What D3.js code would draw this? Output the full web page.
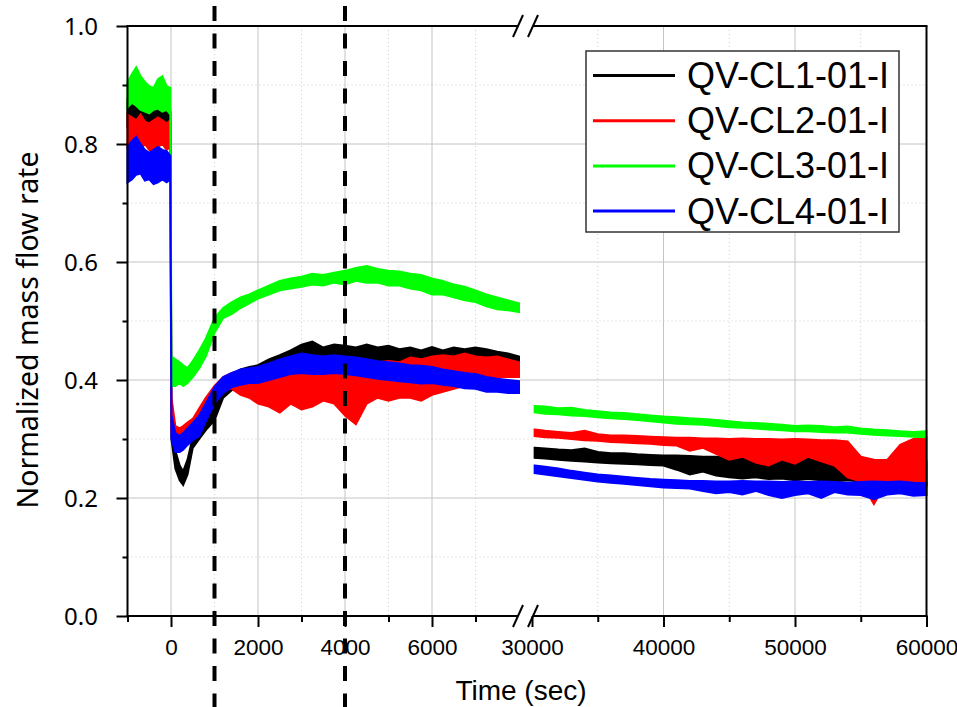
<!DOCTYPE html>
<html>
<head>
<meta charset="utf-8">
<script src="https://cdn.jsdelivr.net/npm/d3@7"></script>
<style>
  body { margin: 0; background: #fff; }
  svg { display: block; }
</style>
</head>
<body>
<svg id="chart" width="957" height="707"></svg>
<script>
// Time samples (sec) for the two parts of the broken x axis
var tLeft = [ -1000, -900, -800, -700, -600, -500, -400, -300, -200, -100, -15,
    10, 100, 200, 280, 380, 500, 650, 800, 1000, 1200, 1400, 1600, 1800,
    2000, 2250, 2500, 2750, 3000, 3250, 3500, 3750, 4000, 4250, 4500, 4750,
    5000, 5250, 5500, 5750, 6000, 6250, 6500, 6750, 7000, 7250, 7500, 7750, 8000 ];
var tRight = [ 30200, 31000, 32000, 33000, 34000, 35000, 36000, 37000, 38000, 39000,
    40000, 41000, 42000, 43000, 44000, 45000, 46000, 47000, 48000, 49000,
    50000, 51000, 52000, 53000, 54000, 55000, 56000, 57000, 58000, 59000, 60000 ];

// Each reading is [upper, lower] edge of the noisy band
var cl1Left = [ [0.875,0.83],[0.87,0.835],[0.865,0.825],[0.86,0.83],[0.855,0.82],[0.85,0.825],[0.858,0.83],[0.862,0.835],[0.865,0.83],[0.86,0.828],[0.855,0.83],
    [0.33,0.3],[0.28,0.25],[0.255,0.23],[0.245,0.222],[0.265,0.24],[0.303,0.285],[0.32,0.3],[0.34,0.315],[0.36,0.332],[0.395,0.37],[0.41,0.383],[0.418,0.39],[0.422,0.395],
    [0.425,0.395],[0.435,0.405],[0.442,0.41],[0.45,0.415],[0.46,0.425],[0.465,0.425],[0.455,0.425],[0.46,0.428],[0.458,0.43],[0.455,0.43],[0.46,0.428],[0.455,0.428],
    [0.458,0.43],[0.452,0.428],[0.455,0.43],[0.45,0.425],[0.456,0.425],[0.45,0.425],[0.455,0.428],[0.452,0.425],[0.455,0.425],[0.452,0.422],[0.448,0.42],[0.445,0.418],[0.44,0.415] ];
var cl2Left = [ [0.85,0.795],[0.845,0.8],[0.84,0.785],[0.85,0.79],[0.838,0.8],[0.835,0.79],[0.84,0.785],[0.845,0.795],[0.84,0.8],[0.835,0.79],[0.84,0.795],
    [0.37,0.31],[0.322,0.29],[0.318,0.293],[0.322,0.296],[0.328,0.302],[0.334,0.305],[0.352,0.325],[0.37,0.345],[0.39,0.37],[0.405,0.385],[0.412,0.385],[0.415,0.375],[0.414,0.37],
    [0.41,0.36],[0.415,0.355],[0.412,0.345],[0.41,0.36],[0.415,0.35],[0.418,0.355],[0.42,0.365],[0.425,0.36],[0.428,0.34],[0.43,0.325],[0.425,0.36],[0.43,0.37],
    [0.432,0.365],[0.43,0.37],[0.438,0.37],[0.435,0.365],[0.44,0.375],[0.442,0.38],[0.44,0.385],[0.445,0.39],[0.44,0.395],[0.438,0.4],[0.44,0.405],[0.435,0.405],[0.43,0.405] ];
var cl3Left = [ [0.905,0.862],[0.918,0.87],[0.93,0.865],[0.915,0.858],[0.905,0.855],[0.898,0.852],[0.895,0.858],[0.91,0.86],[0.915,0.855],[0.898,0.858],[0.895,0.85],
    [0.44,0.39],[0.435,0.39],[0.43,0.395],[0.425,0.39],[0.42,0.395],[0.432,0.405],[0.45,0.42],[0.47,0.44],[0.505,0.48],[0.522,0.505],[0.532,0.512],[0.54,0.522],[0.545,0.53],
    [0.552,0.538],[0.56,0.545],[0.568,0.552],[0.572,0.555],[0.575,0.558],[0.58,0.562],[0.578,0.56],[0.582,0.565],[0.585,0.562],[0.59,0.568],[0.593,0.565],[0.588,0.565],
    [0.585,0.56],[0.584,0.56],[0.58,0.555],[0.578,0.552],[0.572,0.545],[0.568,0.545],[0.562,0.54],[0.558,0.535],[0.552,0.532],[0.545,0.525],[0.54,0.52],[0.535,0.518],[0.53,0.515] ];
var cl4Left = [ [0.795,0.735],[0.805,0.74],[0.812,0.748],[0.8,0.75],[0.79,0.738],[0.785,0.74],[0.79,0.732],[0.795,0.735],[0.79,0.74],[0.788,0.735],[0.78,0.74],
    [0.34,0.3],[0.31,0.278],[0.305,0.278],[0.31,0.282],[0.318,0.29],[0.327,0.298],[0.34,0.305],[0.36,0.33],[0.388,0.36],[0.405,0.378],[0.412,0.388],[0.418,0.392],[0.42,0.395],
    [0.422,0.395],[0.428,0.4],[0.435,0.405],[0.44,0.41],[0.445,0.412],[0.442,0.41],[0.44,0.41],[0.442,0.412],[0.44,0.41],[0.438,0.408],[0.435,0.405],[0.432,0.402],
    [0.43,0.4],[0.428,0.398],[0.425,0.396],[0.424,0.394],[0.422,0.395],[0.418,0.392],[0.415,0.39],[0.412,0.386],[0.41,0.385],[0.405,0.38],[0.402,0.38],[0.4,0.378],[0.398,0.378] ];

var cl1Right = [ [0.285,0.268],[0.284,0.267],[0.282,0.265],[0.281,0.263],[0.284,0.262],[0.278,0.26],[0.276,0.259],[0.276,0.258],[0.274,0.257],[0.273,0.256],
    [0.272,0.255],[0.272,0.248],[0.271,0.24],[0.27,0.245],[0.27,0.238],[0.268,0.235],[0.268,0.233],[0.267,0.235],[0.266,0.232],[0.266,0.233],
    [0.265,0.23],[0.266,0.232],[0.265,0.23],[0.264,0.228],[0.264,0.23],[0.264,0.228],[0.263,0.228],[0.264,0.226],[0.262,0.225],[0.263,0.222],[0.262,0.222] ];
var cl2Right = [ [0.316,0.305],[0.314,0.303],[0.312,0.302],[0.31,0.3],[0.314,0.298],[0.308,0.297],[0.306,0.295],[0.306,0.294],[0.305,0.293],[0.304,0.292],
    [0.303,0.29],[0.302,0.289],[0.302,0.28],[0.301,0.285],[0.301,0.275],[0.3,0.265],[0.301,0.27],[0.3,0.26],[0.3,0.255],[0.299,0.265],
    [0.3,0.258],[0.299,0.27],[0.298,0.262],[0.298,0.255],[0.296,0.235],[0.27,0.228],[0.265,0.19],[0.264,0.228],[0.29,0.225],[0.3,0.222],[0.302,0.22] ];
var cl3Right = [ [0.356,0.345],[0.355,0.343],[0.352,0.342],[0.353,0.34],[0.349,0.339],[0.347,0.337],[0.345,0.335],[0.344,0.334],[0.342,0.332],[0.34,0.33],
    [0.338,0.328],[0.337,0.326],[0.335,0.325],[0.334,0.324],[0.332,0.322],[0.33,0.32],[0.328,0.319],[0.327,0.318],[0.326,0.316],[0.324,0.315],
    [0.322,0.313],[0.323,0.313],[0.322,0.312],[0.32,0.311],[0.321,0.311],[0.318,0.309],[0.316,0.307],[0.315,0.306],[0.313,0.305],[0.312,0.304],[0.313,0.303] ];
var cl4Right = [ [0.255,0.242],[0.253,0.24],[0.25,0.237],[0.246,0.234],[0.243,0.231],[0.24,0.228],[0.238,0.226],[0.236,0.224],[0.234,0.222],[0.232,0.22],
    [0.231,0.218],[0.23,0.217],[0.229,0.216],[0.229,0.212],[0.228,0.208],[0.228,0.21],[0.229,0.206],[0.228,0.212],[0.228,0.205],[0.227,0.2],
    [0.228,0.205],[0.227,0.208],[0.228,0.2],[0.227,0.21],[0.226,0.206],[0.227,0.205],[0.228,0.198],[0.227,0.206],[0.228,0.208],[0.226,0.204],[0.225,0.205] ];

var seriesNames = [ 'QV-CL1-01-I', 'QV-CL2-01-I', 'QV-CL3-01-I', 'QV-CL4-01-I' ];
var seriesColors = [ '#000000', '#ff0000', '#00ff00', '#0000ff' ];
var leftParts = [ cl1Left, cl2Left, cl3Left, cl4Left ];
var rightParts = [ cl1Right, cl2Right, cl3Right, cl4Right ];

var yMajor = [ 0, 0.2, 0.4, 0.6, 0.8, 1.0 ];
var yMinor = [ 0.1, 0.3, 0.5, 0.7, 0.9 ];
var xLeftMajor = [ 0, 2000, 4000, 6000 ];
var xLeftMinor = [ -1000, 1000, 3000, 5000, 7000 ];
var xRightMajor = [ 30000, 40000, 50000, 60000 ];
var xRightMinor = [ 35000, 45000, 55000 ];
var markers = [ 1000, 4000 ];

var svg = d3.select( '#chart' );

var xL = d3.scaleLinear().domain( [ -1000, 8000 ] ).range( [ 127.5, 519 ] ),
    xR = d3.scaleLinear().domain( [ 30000, 60000 ] ).range( [ 532, 926.5 ] ),
    y = d3.scaleLinear().domain( [ 0, 1 ] ).range( [ 616, 26 ] );

var plotLeft = 127.5, plotRight = 926.5, plotTop = y( 1 ), plotBottom = y( 0 );

// grid
var grid = svg.append( 'g' );
yMajor.filter( function( d ) { return d > 0 && d < 1; } ).forEach( function( d ) {
    grid.append( 'line' ).attr( 'x1', plotLeft ).attr( 'x2', plotRight )
        .attr( 'y1', y( d ) ).attr( 'y2', y( d ) )
        .attr( 'stroke', '#c4c4c4' ).attr( 'stroke-width', 1 );
} );
yMinor.forEach( function( d ) {
    grid.append( 'line' ).attr( 'x1', plotLeft ).attr( 'x2', plotRight )
        .attr( 'y1', y( d ) ).attr( 'y2', y( d ) )
        .attr( 'stroke', '#cfcfcf' ).attr( 'stroke-width', 1 ).attr( 'stroke-dasharray', '1 3' );
} );
var vMajor = xLeftMajor.map( xL ).concat( [ 40000, 50000 ].map( xR ) ),
    vMinor = [ 1000, 3000, 5000, 7000 ].map( xL ).concat( xRightMinor.map( xR ) );
vMajor.forEach( function( x ) {
    grid.append( 'line' ).attr( 'x1', x ).attr( 'x2', x ).attr( 'y1', plotTop ).attr( 'y2', plotBottom )
        .attr( 'stroke', '#c4c4c4' ).attr( 'stroke-width', 1 );
} );
vMinor.forEach( function( x ) {
    grid.append( 'line' ).attr( 'x1', x ).attr( 'x2', x ).attr( 'y1', plotTop ).attr( 'y2', plotBottom )
        .attr( 'stroke', '#cfcfcf' ).attr( 'stroke-width', 1 ).attr( 'stroke-dasharray', '1 3' );
} );

// data bands
function band( xs, ts ) {
    return d3.area()
        .x( function( d, i ) { return xs( ts[ i ] ); } )
        .y0( function( d ) { return y( d[ 1 ] ); } )
        .y1( function( d ) { return y( d[ 0 ] ); } );
}
var data = svg.append( 'g' );
leftParts.forEach( function( part, i ) {
    [ [ part, xL, tLeft ], [ rightParts[ i ], xR, tRight ] ].forEach( function( p ) {
        data.append( 'path' )
            .attr( 'd', band( p[ 1 ], p[ 2 ] )( p[ 0 ] ) )
            .attr( 'fill', seriesColors[ i ] )
            .attr( 'stroke', seriesColors[ i ] )
            .attr( 'stroke-width', 2 )
            .attr( 'stroke-linejoin', 'miter' );
    } );
} );

// axes
var axes = svg.append( 'g' );

function styleAxis( g ) {
    g.select( '.domain' ).remove();
    g.selectAll( '.tick line' ).attr( 'stroke', '#000' ).attr( 'stroke-width', 2 );
}

axes.append( 'g' ).attr( 'transform', 'translate(0,' + plotBottom + ')' )
    .call( d3.axisBottom( xL ).tickValues( xLeftMajor ).tickSize( 11 ).tickFormat( d3.format( 'd' ) ) )
    .call( styleAxis );
axes.append( 'g' ).attr( 'transform', 'translate(0,' + plotBottom + ')' )
    .call( d3.axisBottom( xR ).tickValues( xRightMajor ).tickSize( 11 ).tickFormat( d3.format( 'd' ) ) )
    .call( styleAxis );
axes.append( 'g' ).attr( 'transform', 'translate(0,' + plotBottom + ')' )
    .call( d3.axisBottom( xL ).tickValues( xLeftMinor ).tickSize( 6 ).tickFormat( '' ) )
    .call( styleAxis );
axes.append( 'g' ).attr( 'transform', 'translate(0,' + plotBottom + ')' )
    .call( d3.axisBottom( xR ).tickValues( xRightMinor ).tickSize( 6 ).tickFormat( '' ) )
    .call( styleAxis );
axes.selectAll( 'text' )
    .attr( 'y', 39 ).attr( 'dy', 0 )
    .attr( 'font-size', 22.5 ).attr( 'fill', '#000' )
    .style( 'font-family', '"Liberation Sans", Arial, sans-serif' );

var yAxis = svg.append( 'g' ).attr( 'transform', 'translate(' + plotLeft + ',0)' );
yAxis.append( 'g' )
    .call( d3.axisLeft( y ).tickValues( yMajor ).tickSize( 11 ).tickPadding( 18.5 ).tickFormat( d3.format( '.1f' ) ) )
    .call( styleAxis );
yAxis.append( 'g' )
    .call( d3.axisLeft( y ).tickValues( yMinor ).tickSize( 5 ).tickFormat( '' ) )
    .call( styleAxis );
yAxis.selectAll( 'text' )
    .attr( 'font-size', 24 ).attr( 'fill', '#000' ).attr( 'dy', '0.36em' )
    .style( 'font-family', '"Noto Sans", sans-serif' );

// frame with the axis break
var frame = svg.append( 'g' ).attr( 'stroke', '#000' ).attr( 'stroke-width', 2 ).attr( 'fill', 'none' );
[ plotTop, plotBottom ].forEach( function( yy ) {
    frame.append( 'line' ).attr( 'x1', plotLeft - 1 ).attr( 'x2', 518 ).attr( 'y1', yy ).attr( 'y2', yy );
    frame.append( 'line' ).attr( 'x1', 533 ).attr( 'x2', plotRight + 1 ).attr( 'y1', yy ).attr( 'y2', yy );
    [ 518, 533 ].forEach( function( x ) {
        frame.append( 'line' ).attr( 'x1', x - 5 ).attr( 'x2', x + 5 )
            .attr( 'y1', yy + 11 ).attr( 'y2', yy - 11 );
    } );
} );
frame.append( 'line' ).attr( 'x1', plotLeft ).attr( 'x2', plotLeft ).attr( 'y1', plotTop ).attr( 'y2', plotBottom );
frame.append( 'line' ).attr( 'x1', plotRight ).attr( 'x2', plotRight ).attr( 'y1', plotTop ).attr( 'y2', plotBottom );

// vertical dashed markers
var defs = svg.append( 'defs' );
defs.append( 'filter' ).attr( 'id', 'soft' )
    .append( 'feGaussianBlur' ).attr( 'stdDeviation', 1.2 );
markers.forEach( function( t ) {
    svg.append( 'line' )
        .attr( 'x1', xL( t ) + 1 ).attr( 'x2', xL( t ) + 1 ).attr( 'y1', 6 ).attr( 'y2', 707 )
        .attr( 'stroke', '#888' ).attr( 'stroke-width', 5 ).attr( 'opacity', 0.6 )
        .attr( 'stroke-dasharray', '15 12.5' ).attr( 'filter', 'url(#soft)' );
    svg.append( 'line' )
        .attr( 'x1', xL( t ) ).attr( 'x2', xL( t ) ).attr( 'y1', 6 ).attr( 'y2', 707 )
        .attr( 'stroke', '#000' ).attr( 'stroke-width', 4 )
        .attr( 'stroke-dasharray', '15 12.5' );
} );

// axis titles
svg.append( 'text' )
    .attr( 'x', 521 ).attr( 'y', 700 )
    .attr( 'text-anchor', 'middle' )
    .style( 'font-family', '"Liberation Sans", Arial, sans-serif' )
    .attr( 'font-size', 28 )
    .text( 'Time (sec)' );
svg.append( 'text' )
    .attr( 'transform', 'translate(38,330) rotate(-90)' )
    .attr( 'text-anchor', 'middle' )
    .style( 'font-family', '"Noto Sans", sans-serif' )
    .attr( 'font-size', 28.5 )
    .text( 'Normalized mass flow rate' );

// legend
var legend = svg.append( 'g' );
legend.append( 'rect' )
    .attr( 'x', 586 ).attr( 'y', 51 ).attr( 'width', 313 ).attr( 'height', 181 )
    .attr( 'fill', '#fff' ).attr( 'stroke', '#333' ).attr( 'stroke-width', 1.5 );
seriesNames.forEach( function( name, i ) {
    var cy = 75.5 + i * 45.2;
    legend.append( 'line' )
        .attr( 'x1', 593 ).attr( 'x2', 675 ).attr( 'y1', cy ).attr( 'y2', cy )
        .attr( 'stroke', seriesColors[ i ] ).attr( 'stroke-width', 3 );
    legend.append( 'text' )
        .attr( 'x', 687 ).attr( 'y', cy + 12.5 )
        .style( 'font-family', '"Liberation Sans", Arial, sans-serif' )
        .attr( 'font-size', 36 )
        .text( name );
} );
</script>
</body>
</html>
